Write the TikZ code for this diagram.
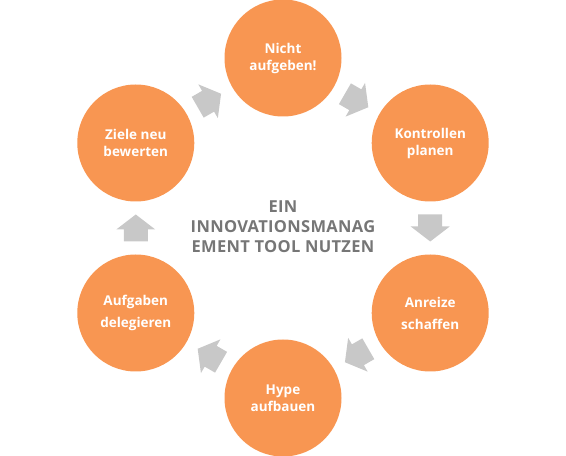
\documentclass[tikz,border=0pt]{standalone}
\usepackage{fontspec}
\setmainfont{Open Sans}
\newfontfamily\spacedfont[LetterSpace=2]{Open Sans}
\usetikzlibrary{calc}
\definecolor{orangefill}{RGB}{248,150,82}
\definecolor{arrowgray}{RGB}{200,200,200}
\definecolor{textgray}{RGB}{118,118,118}
\tikzset{
  circ/.style={circle, fill=orangefill, minimum size=117pt, inner sep=0pt,
    text=white, align=center, font=\bfseries\fontsize{13.5}{17}\selectfont},
  centertext/.style={text=textgray, align=center, font=\spacedfont\bfseries\fontsize{16.5}{20}\selectfont},
  blockarrow/.pic={\fill[arrowgray] (-13.5,-12) -- (-1.5,-12) -- (-1.5,-19.5) -- (13.5,0)
      -- (-1.5,19.5) -- (-1.5,12) -- (-13.5,12) -- cycle;}
}
\begin{document}
\begin{tikzpicture}[x=1pt,y=1pt]
\useasboundingbox (0,0) rectangle (566,456);
\begin{scope}[shift={(283,228)}]
  \node[circ] (n1) at (90:170) {Nicht\\aufgeben!};
  \node[circ] (n2) at (30:170) {Kontrollen\\planen};
  \node[circ] (n3) at (-30:170) {Anreize\\[5pt]schaffen};
  \node[circ] (n4) at (-90:170) {Hype\\aufbauen};
  \node[circ] (n5) at (-150:170) {Aufgaben\\[5pt]delegieren};
  \node[circ] (n6) at (150:170) {Ziele neu\\bewerten};
  \node[centertext] (c) at (0,1) {EIN\\INNOVATIONSMANAG\\EMENT TOOL NUTZEN};
\end{scope}
\pic[rotate=-30] at ($(n1)!0.5!(n2)$) {blockarrow};
\pic[rotate=-90] at ($(n2)!0.5!(n3)$) {blockarrow};
\pic[rotate=-150] at ($(n3)!0.5!(n4)$) {blockarrow};
\pic[rotate=150] at ($(n4)!0.5!(n5)$) {blockarrow};
\pic[rotate=90] at ($(n5)!0.5!(n6)$) {blockarrow};
\pic[rotate=30] at ($(n6)!0.5!(n1)$) {blockarrow};
\end{tikzpicture}
\end{document}
